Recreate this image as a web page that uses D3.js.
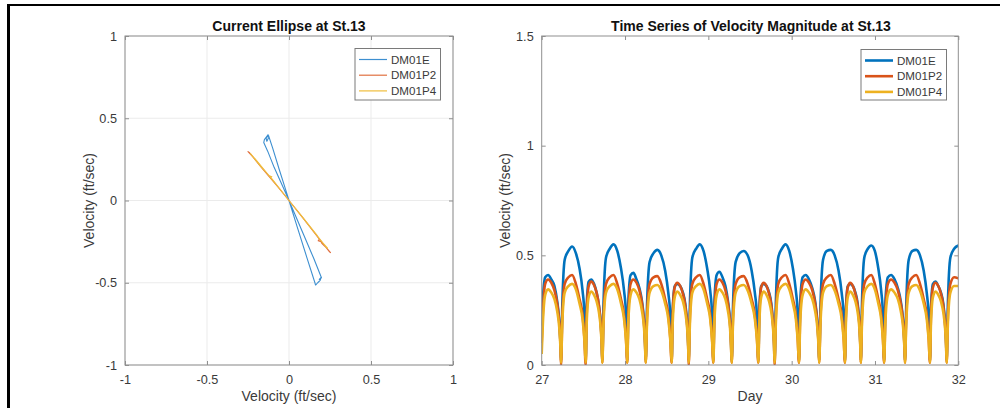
<!DOCTYPE html>
<html><head><meta charset="utf-8">
<script src="https://cdn.jsdelivr.net/npm/d3@7"></script>
<style>
html,body{margin:0;padding:0;background:#fff;}
svg{display:block;font-family:"Liberation Sans",Arial,Helvetica,sans-serif;}
</style></head>
<body>
<svg id="c" width="1000" height="408"></svg>
<script>
// ---------- DATA ----------
const seriesNames = ["DM01E", "DM01P2", "DM01P4"];
const colors = ["#0072BD", "#D95319", "#EDB120"];
const thinColors = ["#3d8fd0", "#e07040", "#efbd3c"];

// Current ellipse traces (u = east velocity, v = north velocity, ft/sec)
const ellipseE_u = [0, 0.05, 0.11, 0.158, 0.162, 0.175, 0.19, 0.196, 0.185, 0.198, 0.15, 0.09, 0.03, 0, -0.04, -0.09, -0.13, -0.154, -0.15, -0.128, -0.123, -0.135, -0.14, -0.125, -0.10, -0.06, -0.02, 0];
const ellipseE_v = [0, -0.16, -0.35, -0.50, -0.514, -0.50, -0.485, -0.467, -0.48, -0.47, -0.35, -0.21, -0.07, 0, 0.09, 0.20, 0.30, 0.352, 0.37, 0.40, 0.385, 0.36, 0.38, 0.395, 0.32, 0.19, 0.065, 0];
const ellipseP2_u = [0, 0.08, 0.15, 0.185, 0.178, 0.195, 0.20, 0.23, 0.253, 0.245, 0.17, 0.08, 0, -0.07, -0.13, -0.18, -0.22, -0.25, -0.24, -0.17, -0.09, 0];
const ellipseP2_v = [0, -0.10, -0.19, -0.235, -0.245, -0.25, -0.26, -0.29, -0.317, -0.31, -0.215, -0.10, 0, 0.085, 0.155, 0.215, 0.265, 0.297, 0.29, 0.205, 0.11, 0];
const ellipseP4_u = [0, 0.09, 0.17, 0.18, 0.19, 0.235, 0.228, 0.16, 0.08, 0, -0.06, -0.11, -0.105, -0.12, -0.17, -0.22, -0.235, -0.2, -0.13, -0.06, 0];
const ellipseP4_v = [0, -0.11, -0.21, -0.225, -0.24, -0.29, -0.285, -0.20, -0.10, 0, 0.075, 0.14, 0.145, 0.15, 0.205, 0.265, 0.285, 0.245, 0.16, 0.075, 0];

// Time series of velocity magnitude (day, ft/sec)
const days = [
 27.000,27.014,27.042,27.077,27.116,27.153,27.186,27.211,27.225,
 27.232,27.247,27.276,27.321,27.365,27.410,27.454,27.490,27.513,
 27.528,27.540,27.564,27.594,27.628,27.659,27.687,27.709,27.721,
 27.727,27.742,27.772,27.817,27.862,27.907,27.952,27.988,28.012,
 28.027,28.040,28.067,28.100,28.138,28.173,28.204,28.228,28.241,
 28.248,28.264,28.295,28.342,28.388,28.435,28.482,28.519,28.544,
 28.560,28.572,28.597,28.627,28.662,28.695,28.723,28.746,28.758,
 28.764,28.779,28.808,28.853,28.897,28.942,28.986,29.022,29.045,
 29.060,29.073,29.100,29.133,29.170,29.205,29.236,29.260,29.273,
 29.280,29.296,29.328,29.376,29.424,29.472,29.520,29.558,29.584,
 29.600,29.612,29.635,29.664,29.698,29.729,29.756,29.777,29.789,
 29.795,29.810,29.839,29.883,29.927,29.971,30.015,30.050,30.073,
 30.088,30.103,30.132,30.168,30.209,30.248,30.282,30.308,30.323,
 30.330,30.346,30.377,30.423,30.470,30.516,30.563,30.600,30.625,
 30.640,30.651,30.674,30.703,30.735,30.765,30.792,30.813,30.824,
 30.830,30.844,30.872,30.914,30.956,30.998,31.040,31.074,31.096,
 31.110,31.125,31.155,31.193,31.235,31.275,31.310,31.338,31.353,
 31.360,31.375,31.405,31.450,31.495,31.540,31.585,31.621,31.645,
 31.660,31.672,31.696,31.726,31.760,31.792,31.820,31.842,31.854,
 31.860,31.875,31.905,31.950,32.000];
const dm01e = [
 0.18,0.30,0.40,0.41,0.39,0.36,0.29,0.20,0.10,
 0.02,0.27,0.48,0.52,0.54,0.51,0.44,0.34,0.23,
 0.02,0.27,0.38,0.39,0.37,0.33,0.27,0.19,0.10,
 0.02,0.28,0.49,0.53,0.55,0.52,0.44,0.34,0.23,
 0.02,0.29,0.41,0.42,0.39,0.35,0.29,0.20,0.10,
 0.02,0.27,0.47,0.51,0.525,0.50,0.43,0.33,0.22,
 0.02,0.25,0.36,0.37,0.36,0.33,0.28,0.19,0.10,
 0.02,0.28,0.49,0.53,0.55,0.52,0.44,0.34,0.23,
 0.02,0.29,0.41,0.425,0.40,0.36,0.29,0.20,0.10,
 0.02,0.27,0.47,0.51,0.52,0.50,0.43,0.33,0.22,
 0.02,0.25,0.36,0.37,0.36,0.33,0.28,0.19,0.10,
 0.02,0.28,0.49,0.53,0.55,0.52,0.44,0.34,0.23,
 0.02,0.29,0.40,0.41,0.39,0.35,0.29,0.20,0.10,
 0.02,0.27,0.48,0.52,0.525,0.50,0.43,0.33,0.22,
 0.02,0.25,0.36,0.37,0.36,0.33,0.28,0.19,0.10,
 0.02,0.28,0.49,0.53,0.545,0.52,0.44,0.34,0.23,
 0.02,0.29,0.40,0.41,0.39,0.35,0.29,0.20,0.10,
 0.02,0.27,0.48,0.52,0.525,0.50,0.43,0.33,0.22,
 0.02,0.26,0.37,0.38,0.36,0.33,0.28,0.19,0.10,
 0.02,0.28,0.49,0.53,0.545];
const dm01p2 = [
 0.10,0.24,0.37,0.39,0.375,0.34,0.28,0.19,0.09,
 0.00,0.22,0.37,0.40,0.41,0.37,0.30,0.23,0.12,
 0.00,0.23,0.36,0.38,0.365,0.33,0.27,0.18,0.09,
 0.01,0.22,0.37,0.40,0.41,0.37,0.30,0.23,0.12,
 0.01,0.24,0.37,0.39,0.375,0.34,0.28,0.19,0.09,
 0.01,0.22,0.37,0.40,0.405,0.37,0.30,0.23,0.12,
 0.01,0.23,0.355,0.375,0.36,0.325,0.27,0.18,0.09,
 0.00,0.22,0.37,0.40,0.41,0.37,0.30,0.23,0.12,
 0.01,0.24,0.37,0.39,0.375,0.34,0.28,0.19,0.09,
 0.01,0.22,0.37,0.40,0.405,0.37,0.30,0.23,0.12,
 0.01,0.23,0.355,0.375,0.36,0.325,0.27,0.18,0.09,
 0.00,0.22,0.37,0.40,0.41,0.37,0.30,0.23,0.12,
 0.01,0.24,0.37,0.39,0.375,0.34,0.28,0.19,0.09,
 0.01,0.22,0.37,0.40,0.41,0.37,0.30,0.23,0.12,
 0.01,0.23,0.355,0.375,0.36,0.325,0.27,0.18,0.09,
 0.01,0.22,0.37,0.40,0.41,0.37,0.30,0.23,0.12,
 0.01,0.24,0.37,0.39,0.375,0.34,0.28,0.19,0.09,
 0.01,0.22,0.37,0.40,0.41,0.37,0.30,0.23,0.12,
 0.01,0.23,0.355,0.375,0.36,0.325,0.27,0.18,0.09,
 0.01,0.22,0.37,0.40,0.395];
const dm01p4 = [
 0.05,0.19,0.32,0.345,0.33,0.30,0.245,0.17,0.08,
 0.01,0.19,0.33,0.36,0.37,0.345,0.28,0.21,0.11,
 0.01,0.19,0.31,0.335,0.32,0.29,0.24,0.165,0.08,
 0.01,0.19,0.33,0.36,0.37,0.345,0.28,0.21,0.11,
 0.01,0.20,0.32,0.345,0.33,0.30,0.245,0.17,0.08,
 0.01,0.19,0.33,0.36,0.365,0.34,0.28,0.21,0.11,
 0.01,0.19,0.31,0.335,0.32,0.29,0.24,0.165,0.08,
 0.01,0.19,0.33,0.36,0.37,0.345,0.28,0.21,0.11,
 0.01,0.20,0.32,0.345,0.33,0.30,0.245,0.17,0.08,
 0.01,0.19,0.33,0.36,0.365,0.34,0.28,0.21,0.11,
 0.01,0.19,0.31,0.335,0.32,0.29,0.24,0.165,0.08,
 0.01,0.19,0.33,0.36,0.37,0.345,0.28,0.21,0.11,
 0.01,0.20,0.32,0.345,0.33,0.30,0.245,0.17,0.08,
 0.01,0.19,0.33,0.36,0.365,0.34,0.28,0.21,0.11,
 0.01,0.19,0.31,0.335,0.32,0.29,0.24,0.165,0.08,
 0.01,0.19,0.33,0.36,0.37,0.345,0.28,0.21,0.11,
 0.01,0.20,0.32,0.345,0.33,0.30,0.245,0.17,0.08,
 0.01,0.19,0.33,0.36,0.365,0.34,0.28,0.21,0.11,
 0.01,0.19,0.31,0.335,0.32,0.29,0.24,0.165,0.08,
 0.01,0.19,0.33,0.36,0.36];

const ellipseTicks = [-1, -0.5, 0, 0.5, 1];
const dayTicks = [27, 28, 29, 30, 31, 32];
const magTicks = [0, 0.5, 1, 1.5];

// ---------- DRAW ----------
const svg = d3.select("#c");
const AX = "#8f8f8f", TXT = "#3a3a3a";
svg.append("rect").attr("width",1000).attr("height",408).attr("fill","#fff");
// figure frame
svg.append("line").attr("x1",8.5).attr("x2",8.5).attr("y1",4).attr("y2",408).attr("stroke","#000").attr("stroke-width",3);
svg.append("line").attr("x1",7).attr("x2",1000).attr("y1",5).attr("y2",5).attr("stroke","#000").attr("stroke-width",2);

function makeAxes(box, xs, ys, xt, yt, grid, id) {
  const g = svg.append("g");
  if (grid) {
    g.selectAll(".gx").data(xt).join("line").attr("x1",d=>xs(d)).attr("x2",d=>xs(d))
      .attr("y1",box.y0).attr("y2",box.y1).attr("stroke","#ebebeb").attr("stroke-width",1);
    g.selectAll(".gy").data(yt).join("line").attr("y1",d=>ys(d)).attr("y2",d=>ys(d))
      .attr("x1",box.x0).attr("x2",box.x1).attr("stroke","#ebebeb").attr("stroke-width",1);
  }
  svg.append("clipPath").attr("id",id).append("rect")
    .attr("x",box.x0).attr("y",box.y0).attr("width",box.x1-box.x0).attr("height",box.y1-box.y0);
  return g;
}
function finishAxes(box, xs, ys, xt, yt) {
  const fmt = d => String(d);
  const gb = svg.append("g").attr("transform",`translate(0,${box.y1})`)
    .call(d3.axisBottom(xs).tickValues(xt).tickFormat(fmt).tickSize(-4).tickPadding(10));
  const gt = svg.append("g").attr("transform",`translate(0,${box.y0})`)
    .call(d3.axisTop(xs).tickValues(xt).tickFormat("").tickSize(-4));
  const gl = svg.append("g").attr("transform",`translate(${box.x0},0)`)
    .call(d3.axisLeft(ys).tickValues(yt).tickFormat(fmt).tickSize(-4).tickPadding(8));
  const gr = svg.append("g").attr("transform",`translate(${box.x1},0)`)
    .call(d3.axisRight(ys).tickValues(yt).tickFormat("").tickSize(-4));
  [gb,gt,gl,gr].forEach(g=>{
    g.select(".domain").remove();
    g.selectAll("line").attr("stroke",AX);
    g.selectAll("text").attr("fill",TXT).style("font-size","12.7px").style("font-family",'"Liberation Sans",Arial,sans-serif');
  });
  svg.append("rect").attr("x",box.x0).attr("y",box.y0).attr("width",box.x1-box.x0).attr("height",box.y1-box.y0)
    .attr("fill","none").attr("stroke",AX).attr("stroke-width",1);
}
function legend(x, y, w, h, lw, cols) {
  const g = svg.append("g");
  g.append("rect").attr("x",x).attr("y",y).attr("width",w).attr("height",h)
    .attr("fill","#fff").attr("stroke","#7a7a7a").attr("stroke-width",1);
  seriesNames.forEach((n,i)=>{
    const yy = y + 11 + i*15.7;
    g.append("line").attr("x1",x+4).attr("x2",x+32).attr("y1",yy).attr("y2",yy)
      .attr("stroke",cols[i]).attr("stroke-width",lw);
    g.append("text").attr("x",x+36).attr("y",yy+4).text(n).attr("fill",TXT).style("font-size","11.6px");
  });
}
function titleText(x, y, t) {
  svg.append("text").attr("x",x).attr("y",y).attr("text-anchor","middle").text(t)
    .attr("fill","#111").style("font-size","14px").style("font-weight","bold");
}
function labelX(x, y, t) {
  svg.append("text").attr("x",x).attr("y",y).attr("text-anchor","middle").text(t)
    .attr("fill",TXT).style("font-size","14px");
}
function labelY(x, y, t) {
  svg.append("text").attr("transform",`translate(${x},${y}) rotate(-90)`).attr("text-anchor","middle").text(t)
    .attr("fill",TXT).style("font-size","14px");
}

// Left panel: current ellipse
const boxL = {x0:125, x1:453, y0:36, y1:365};
const xL = d3.scaleLinear().domain([-1,1]).range([boxL.x0, boxL.x1]);
const yL = d3.scaleLinear().domain([-1,1]).range([boxL.y1, boxL.y0]);
makeAxes(boxL, xL, yL, ellipseTicks, ellipseTicks, true, "clipL");
const ellData = [[ellipseE_u, ellipseE_v],[ellipseP2_u, ellipseP2_v],[ellipseP4_u, ellipseP4_v]];
const lineL = d3.line().x(d=>xL(d[0])).y(d=>yL(d[1]));
const gL = svg.append("g").attr("clip-path","url(#clipL)");
ellData.forEach((s,i)=>{
  const pts = s[0].map((u,k)=>[u, s[1][k]]);
  gL.append("path").attr("d",lineL(pts)).attr("fill","none").attr("stroke",thinColors[i])
    .attr("stroke-width",1.1).attr("stroke-linejoin","round");
});
finishAxes(boxL, xL, yL, ellipseTicks, ellipseTicks);
titleText(289, 31, "Current Ellipse at St.13");
labelX(289, 401, "Velocity (ft/sec)");
labelY(94, 200.5, "Velocity (ft/sec)");
legend(355, 48.5, 85.5, 51.5, 1.2, thinColors);

// Right panel: time series
const boxR = {x0:541.7, x1:958.3, y0:36, y1:365};
const xR = d3.scaleLinear().domain([27,32]).range([boxR.x0, boxR.x1]);
const yR = d3.scaleLinear().domain([0,1.5]).range([boxR.y1, boxR.y0]);
makeAxes(boxR, xR, yR, dayTicks, magTicks, false, "clipR");
const gR = svg.append("g").attr("clip-path","url(#clipR)");
[dm01e, dm01p2, dm01p4].forEach((vals,i)=>{
  const pts = days.map((d,k)=>[d, vals[k]]);
  const ln = d3.line().x(d=>xR(d[0])).y(d=>yR(d[1])).curve(d3.curveMonotoneX);
  gR.append("path").attr("d",ln(pts)).attr("fill","none").attr("stroke",colors[i])
    .attr("stroke-width",2.6).attr("stroke-linejoin","round");
});
finishAxes(boxR, xR, yR, dayTicks, magTicks);
titleText(751, 31, "Time Series of Velocity Magnitude at St.13");
labelX(750, 401, "Day");
labelY(510, 200.5, "Velocity (ft/sec)");
legend(861, 49.5, 85.5, 50.5, 2.6, colors);
</script>
</body></html>
